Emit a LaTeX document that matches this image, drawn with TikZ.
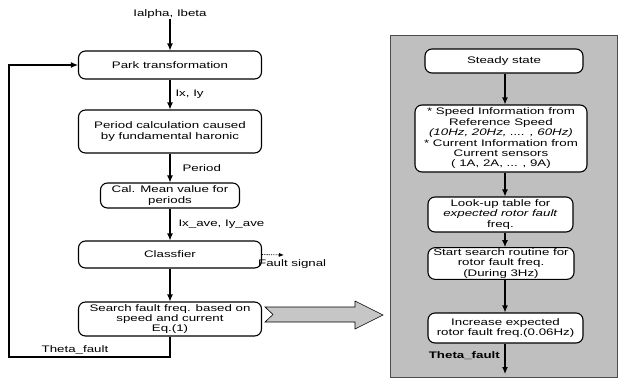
\documentclass[tikz,border=0pt]{standalone}
\usepackage{fontspec}
\setmainfont{Liberation Sans}[FakeStretch=1.4]
\usetikzlibrary{arrows.meta}
\newcommand{\diafont}{\fontsize{9.5}{10.4}\selectfont}
\begin{document}
\begin{tikzpicture}[x=1pt,y=-1pt,
  box/.style={draw, rounded corners=7pt, line width=1.1pt, fill=white, align=center, inner sep=1pt, font=\diafont},
  arr/.style={-{Latex[length=7pt,width=6pt]}, line width=1.1pt},
  lbl/.style={font=\diafont, inner sep=0pt}]
\useasboundingbox (0,0) rectangle (619,381);
% right panel
\fill[gray!50] (390,35) rectangle (617,377);
\draw[gray!60!black, line width=0.5pt] (390,35) rectangle (617,377);
% big arrow
\draw[fill=gray!45, line width=0.6pt] (265,307) -- (355,307) -- (355,301) -- (383,315) -- (355,329) -- (355,322) -- (265,322) -- (273,314.5) -- cycle;

% left chain
\node[lbl] (in) at (170,14) {Ialpha, Ibeta};
\node[box, minimum width=183pt, minimum height=28pt] (park) at (170,65) {Park transformation};
\node[box, minimum width=183pt, minimum height=43pt] (period) at (170,131.5) {Period calculation caused\\by fundamental haronic};
\node[box, minimum width=139pt, minimum height=25pt] (mean) at (170,195.5) {Cal. Mean value for\\periods};
\node[box, minimum width=183pt, minimum height=27pt] (class) at (170,254.5) {Classfier};
\node[box, minimum width=183pt, minimum height=34pt] (search) at (170,319) {Search fault freq. based on\\speed and current\\Eq.(1)};

\draw[arr] (in) -- (park);
\draw[arr] (park) -- node[lbl, right=5pt] {Ix, Iy} (period);
\draw[arr] (period) -- node[lbl, right=12pt] {Period} (mean);
\draw[arr] (mean) -- node[lbl, right=8pt] {Ix\_ave, Iy\_ave} (class);
\draw[arr] (class) -- (search);

\coordinate (fs) at (284,255);
\draw[densely dotted, line width=0.8pt, -{Latex[length=5pt,width=4pt]}] (class.east) -- (fs);
\node[lbl, anchor=west] (fslbl) at (258,264) {Fault signal};

\coordinate (fb2) at (9,357);
\draw[arr] (search.south) |- (fb2) |- (park.west);
\node[lbl] (thl) at (75,350) {Theta\_fault};

% right chain
\node[box, minimum width=158pt, minimum height=24pt] (steady) at (504,61) {Steady state};
\node[box, minimum width=172pt, minimum height=67pt] (speed) at (501,138.5) {* Speed Information from\\Reference Speed\\\textit{(10Hz, 20Hz, .... , 60Hz)}\\* Current Information from\\Current sensors\\( 1A, 2A, ... , 9A)};
\node[box, minimum width=145pt, minimum height=35pt] (look) at (500.5,214.5) {Look-up table for\\\textit{expected rotor fault}\\freq.};
\node[box, minimum width=146pt, minimum height=31pt] (start) at (501,263.5) {Start search routine for\\rotor fault freq.\\(During 3Hz)};
\node[box, minimum width=155pt, minimum height=30pt] (inc) at (505.5,328) {Increase expected\\rotor fault freq.(0.06Hz)};

\coordinate (ax) at (505,0);
\coordinate (endR) at (505,374);
\draw[arr] (ax |- steady.south) -- (ax |- speed.north);
\draw[arr] (ax |- speed.south) -- (ax |- look.north);
\draw[arr] (ax |- look.south) -- (ax |- start.north);
\draw[arr] (ax |- start.south) -- (ax |- inc.north);
\draw[arr] (ax |- inc.south) -- (endR);
\node[lbl, anchor=east, font=\diafont\bfseries] (thr) at (500,356) {Theta\_fault};
\end{tikzpicture}
\end{document}
